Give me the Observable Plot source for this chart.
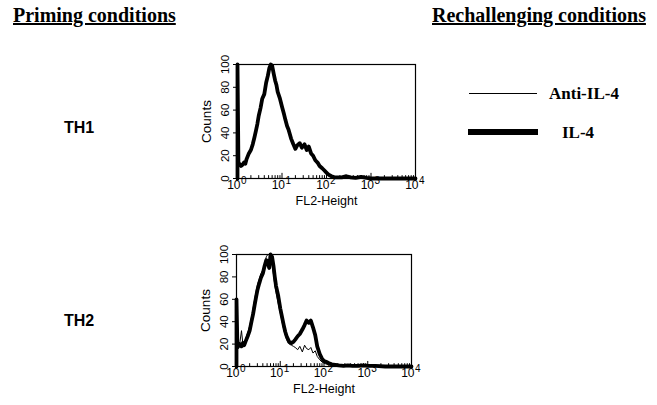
<!DOCTYPE html>
<html>
<head>
<meta charset="utf-8">
<script src="https://cdn.jsdelivr.net/npm/d3@7"></script>
<script src="https://cdn.jsdelivr.net/npm/@observablehq/plot@0.6"></script>
<style>
  html, body { margin: 0; padding: 0; background: #fff; }
  #page { position: relative; width: 657px; height: 405px; overflow: hidden; background: #fff; }
  .hdr { position: absolute; font: bold 20px "Liberation Serif", "Times New Roman", serif; text-decoration: underline; line-height: 1; white-space: nowrap; color: #000; }
  .th { position: absolute; font: bold 16px "Liberation Sans", Arial, sans-serif; line-height: 1; color: #000; }
  .leg { position: absolute; font: bold 17px "Liberation Serif", "Times New Roman", serif; line-height: 1; white-space: nowrap; color: #000; }
  .sw { position: absolute; background: #000; }
  .panel { position: absolute; }
</style>
</head>
<body>
<div id="page">
  <div class="hdr" style="left:13px; top:5px;">Priming conditions</div>
  <div class="hdr" style="left:432px; top:5px;">Rechallenging conditions</div>
  <div class="th" style="left:64px; top:120px;">TH1</div>
  <div class="th" style="left:64px; top:313px;">TH2</div>
  <div class="sw" style="left:469px; top:93px; width:68px; height:1.4px;"></div>
  <div class="leg" style="left:549px; top:85px;">Anti-IL-4</div>
  <div class="sw" style="left:468px; top:129px; width:70px; height:6px;"></div>
  <div class="leg" style="left:562px; top:124px;">IL-4</div>
  <div class="panel" id="p1" style="left:192px; top:58px;"></div>
  <div class="panel" id="p2" style="left:191px; top:248px;"></div>
</div>
<script>
// FL2-Height channel positions (shared by both histograms)
const fl2 = [1, 1, 1.05, 1.1, 1.2, 1.3, 1.4, 1.5, 1.6, 1.8,
  2.0, 2.2, 2.4, 2.6, 2.8, 3.0, 3.3, 3.6, 4.0, 4.4,
  4.8, 5.2, 5.6, 6.0, 6.5, 7.0, 7.5, 8.0, 9.0, 10,
  11, 12, 13, 14, 16, 18, 20, 22, 25, 28,
  32, 36, 40, 45, 50, 56, 63, 70, 80, 90,
  100, 115, 130, 150, 180, 220, 280, 350, 450, 600,
  800, 1000, 1500, 2500, 4000, 10000];

// TH1 priming: Anti-IL-4 (thin) and IL-4 (thick) rechallenge
const th1AntiIL4 = [0, 100, 13, 12, 12, 13, 15, 14, 18, 23,
  26, 31, 37, 43, 50, 56, 63, 71, 76, 86,
  93, 99, 100, 97, 90, 85, 80, 74, 68, 61,
  55, 50, 45, 41, 33, 29, 27, 30, 29, 28,
  29, 24, 27, 21, 19, 15, 13, 10, 8, 6,
  4, 3, 2, 1, 1, 1, 1.5, 1, 0.5, 1,
  0.5, 0, 0, 0, 0, 0];
const th1IL4 = [0, 100, 12, 13, 11, 12, 14, 13, 17, 22,
  25, 30, 36, 42, 48, 55, 62, 70, 74, 84,
  90, 97, 100, 99, 92, 86, 82, 76, 70, 63,
  57, 51, 46, 43, 35, 30, 26, 29, 31, 27,
  30, 25, 28, 22, 20, 16, 14, 11, 9, 7,
  5, 3, 2, 1, 1, 1, 2, 1, 0.5, 1.5,
  0.5, 0, 0, 0, 0, 0];

// TH2 priming
const th2AntiIL4 = [0, 60, 18, 20, 22, 32, 20, 22, 24, 30,
  36, 44, 52, 60, 67, 73, 78, 83, 86, 92,
  98, 100, 100, 99, 92, 82, 73, 66, 56, 48,
  40, 33, 28, 24, 20, 19, 18, 17, 15, 18,
  13, 19, 16, 15, 17, 12, 14, 9, 6, 4,
  3, 2, 1.5, 1, 1, 0.5, 0.5, 0.5, 0.5, 0.5,
  0, 0, 0, 0, 0, 0];
const th2IL4 = [0, 60, 17, 18, 20, 18, 21, 19, 22, 27,
  32, 40, 47, 55, 62, 68, 74, 79, 83, 90,
  95, 92, 88, 100, 98, 90, 80, 72, 63, 52,
  44, 37, 31, 27, 22, 21, 22, 24, 27, 29,
  33, 37, 41, 39, 41, 35, 28, 18, 11, 7,
  5, 4, 3, 2, 1.5, 1, 0.5, 1, 0.5, 0.5,
  1, 0.5, 0.5, 0, 0, 0];

// axis ticks
const yTicks = [0, 20, 40, 60, 80, 100];
const decades = [1, 10, 100, 1000, 10000];
const decadeExp = ["0", "1", "2", "3", "4"];
const minorTicks = [2, 3, 4, 5, 6, 7, 8, 9,
  20, 30, 40, 50, 60, 70, 80, 90,
  200, 300, 400, 500, 600, 700, 800, 900,
  2000, 3000, 4000, 5000, 6000, 7000, 8000, 9000];

function toRows(xs, ys) { return xs.map((x, i) => ({x, y: ys[i]})); }

function panel(thin, thick, frameW, frameH) {
  const mL = 45, mR = 12, mT = 6, mB = 36;
  const sans = "'Liberation Sans', Arial, Helvetica, sans-serif";
  return Plot.plot({
    width: mL + frameW + mR,
    height: mT + frameH + mB,
    marginLeft: mL, marginRight: mR, marginTop: mT, marginBottom: mB,
    style: {background: "transparent", fontFamily: sans, overflow: "visible", color: "#000"},
    x: {type: "log", domain: [1, 10000], axis: null},
    y: {domain: [0, 100], axis: null},
    marks: [
      Plot.frame({stroke: "#000", strokeWidth: 1.2}),
      Plot.line(toRows(fl2, thin), {x: "x", y: "y", stroke: "#000", strokeWidth: 1, strokeLinejoin: "round"}),
      Plot.line(toRows(fl2, thick), {x: "x", y: "y", stroke: "#000", strokeWidth: 3.8, strokeLinejoin: "round"}),
      Plot.ruleX(minorTicks, {x: d => d, y1: 0, y2: 2.5, stroke: "#000", strokeWidth: 1}),
      Plot.ruleX(decades, {x: d => d, y1: 0, y2: 4.5, stroke: "#000", strokeWidth: 1}),
      Plot.axisY({ticks: yTicks, tickSize: 4, tickFormat: () => "", label: null, stroke: "#000"}),
      Plot.text(yTicks, {y: d => d, text: d => String(d), frameAnchor: "left", dx: -12, rotate: -90, textAnchor: "middle", fontSize: 11.5, fill: "#000"}),
      Plot.text(["Counts"], {text: d => d, frameAnchor: "left", dx: -31, rotate: -90, textAnchor: "middle", fontSize: 13.5, fill: "#000"}),
      Plot.text(decades, {x: d => d, text: () => "10", frameAnchor: "bottom", dy: 10, dx: 3, textAnchor: "end", fontSize: 12, fill: "#000"}),
      Plot.text(decades, {x: d => d, text: (d, i) => decadeExp[i], frameAnchor: "bottom", dy: 5, dx: 3.5, textAnchor: "start", fontSize: 10, fill: "#000"}),
      Plot.text(["FL2-Height"], {text: d => d, frameAnchor: "bottom", dy: 26, textAnchor: "middle", fontSize: 12.5, fill: "#000"})
    ]
  });
}

document.getElementById("p1").appendChild(panel(th1AntiIL4, th1IL4, 178, 114));
document.getElementById("p2").appendChild(panel(th2AntiIL4, th2IL4, 175, 112));
</script>
</body>
</html>
